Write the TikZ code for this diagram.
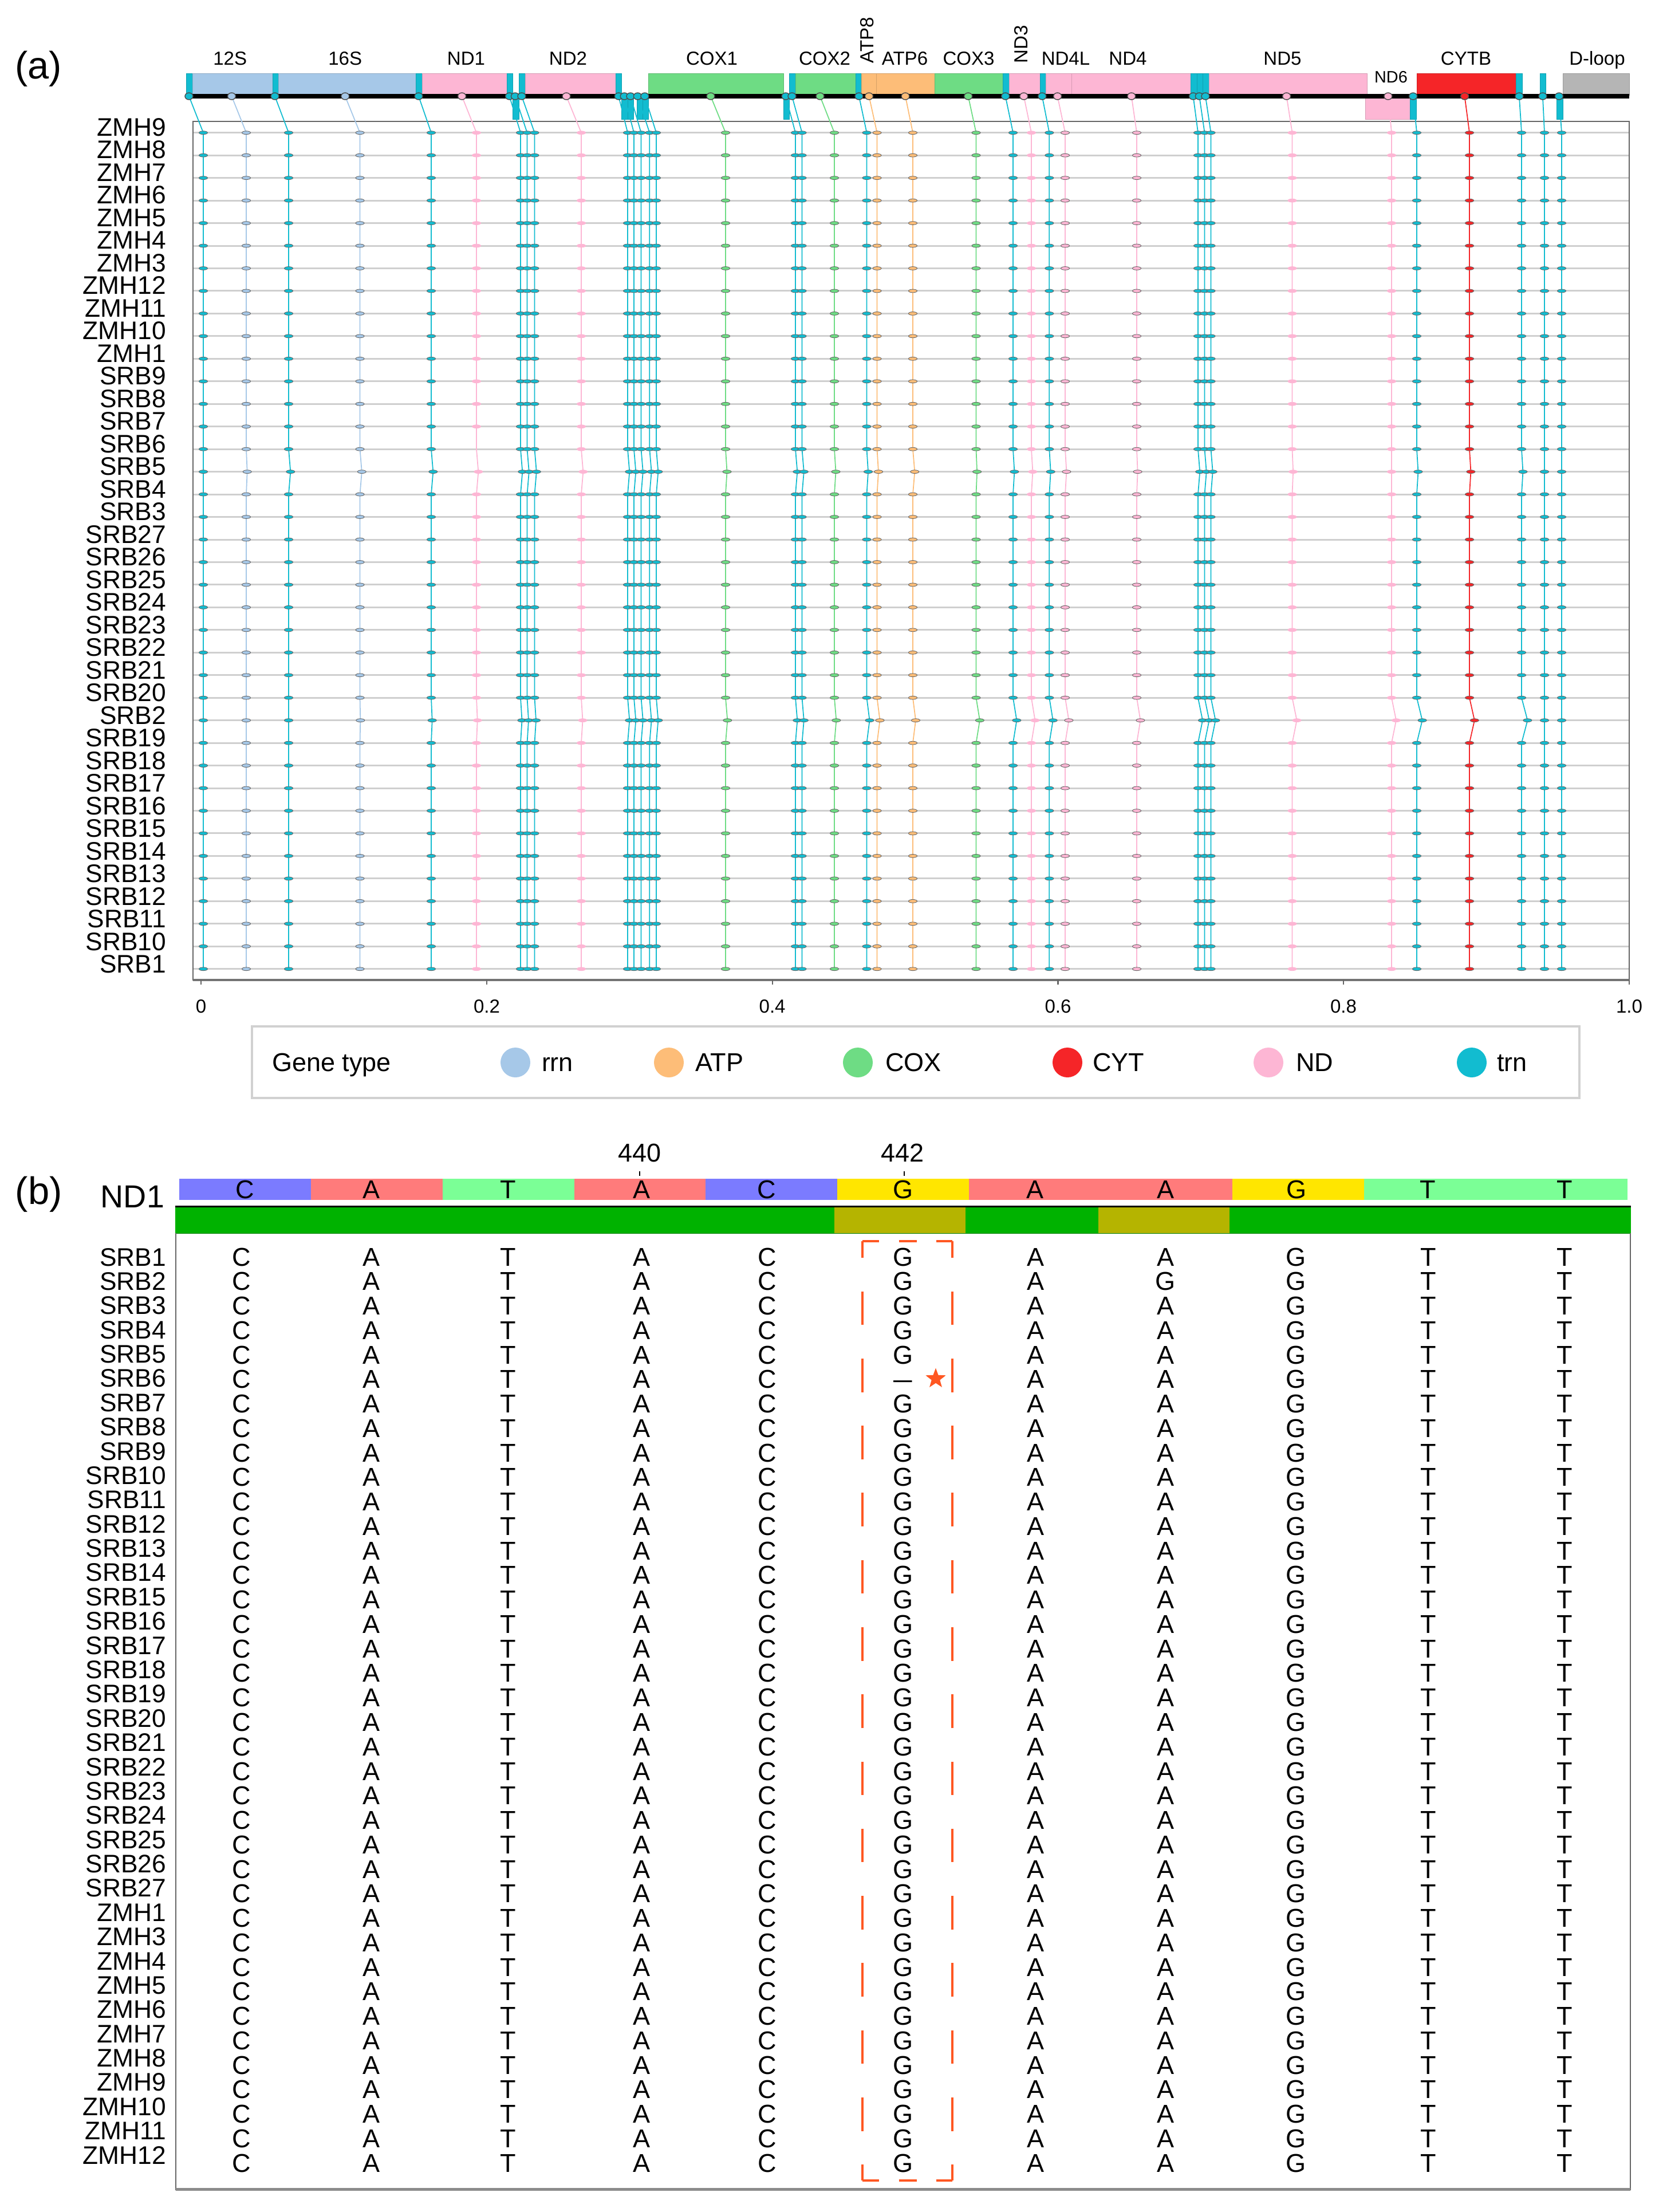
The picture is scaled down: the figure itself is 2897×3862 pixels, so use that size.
\documentclass[tikz,border=0pt]{standalone}
\usepackage{fontspec}
\setmainfont{Liberation Sans}
\usetikzlibrary{shapes.geometric}
\definecolor{crrn}{RGB}{166,200,232}
\definecolor{catp}{RGB}{253,189,120}
\definecolor{ccox}{RGB}{110,220,132}
\definecolor{ccyt}{RGB}{245,37,40}
\definecolor{cnd}{RGB}{253,182,212}
\definecolor{ctrn}{RGB}{18,188,208}
\definecolor{cdloop}{RGB}{181,181,181}
\definecolor{cellC}{RGB}{123,123,255}
\definecolor{cellA}{RGB}{255,123,123}
\definecolor{cellT}{RGB}{123,255,150}
\definecolor{cellG}{RGB}{255,230,0}
\definecolor{bargreen}{RGB}{0,178,0}
\definecolor{barolive}{RGB}{181,180,0}
\definecolor{hilite}{RGB}{255,87,34}
\begin{document}
\begin{tikzpicture}[x=0.01cm,y=-0.01cm,
  every node/.style={inner sep=0pt,outer sep=0pt},
  panellab/.style={font=\fontsize{19}{22}\selectfont,anchor=base west},
  rowlab/.style={font=\fontsize{12.6}{14}\selectfont,anchor=base east},
  genelab/.style={font=\fontsize{9.4}{11}\selectfont,anchor=base},
  legtext/.style={font=\fontsize{12.8}{14}\selectfont,anchor=base west},
  seqlet/.style={font=\fontsize{12.8}{14}\selectfont,anchor=base},
  conn/.style={line width=0.5pt},
  rowline/.style={draw=black!19,line width=0.03cm},
  hl/.style={draw=hilite,line width=0.04cm}]
\useasboundingbox (0,0) rectangle (2897,3862);

% ================= panel (a) =================
\node[panellab] (pa) at (26,137.5) {(a)};

% frame and axis
\draw[black!60,line width=0.6pt] (337,212.3) rectangle (2845,1711);
\draw[black!55,line width=1.3pt] (337,1711) -- (2845,1711);
\foreach \xx/\tl [count=\k] in {351/0,850/0.2,1348.6/0.4,1847.5/0.6,2346/0.8,2845/1.0}{
  \draw[black!60,line width=0.6pt] (\xx,1711) -- (\xx,1719);
  \node[genelab] (tick\k) at (\xx,1768) {\tl};
}

% row lines and row labels
\foreach \n [count=\i from 0] in {ZMH9,ZMH8,ZMH7,ZMH6,ZMH5,ZMH4,ZMH3,ZMH12,ZMH11,ZMH10,ZMH1,SRB9,SRB8,SRB7,SRB6,SRB5,SRB4,SRB3,SRB27,SRB26,SRB25,SRB24,SRB23,SRB22,SRB21,SRB20,SRB2,SRB19,SRB18,SRB17,SRB16,SRB15,SRB14,SRB13,SRB12,SRB11,SRB10,SRB1}{
  \pgfmathsetmacro\ry{231.7+39.46*\i}
  \pgfmathsetmacro\ly{237+39.5*\i}
  \draw[rowline] (338,\ry) -- (2844,\ry);
  \node[rowlab] (ra\i) at (290,\ly) {\n};
}

% gene bar boxes (above strand)
\foreach \tc/\xa/\xb in {ctrn/325/336,crrn/336/476,ctrn/476/486,crrn/486/726,ctrn/726/737,cnd/737/885,ctrn/885/895,ctrn/906/917,cnd/917/1075,ctrn/1075/1085,ccox/1132/1368,ctrn/1378/1389,ccox/1389/1494,ctrn/1494/1504,catp/1504/1530,catp/1530/1632,ccox/1632/1751,ctrn/1751/1762,cnd/1762/1816,ctrn/1816/1826,cnd/1826/1871.5,cnd/1871.5/2079,ctrn/2079/2090,ctrn/2090/2100,ctrn/2100/2111,cnd/2111/2387,ccyt/2474/2647.5,ctrn/2647.5/2658,ctrn/2689/2699,cdloop/2729/2845}{
  \filldraw[fill=\tc,draw=\tc!85!black,line width=0.2pt] (\xa,128) rectangle (\xb,166);
}
% gene bar boxes (below strand)
\foreach \tc/\xa/\xb in {ctrn/895/906,ctrn/1085/1096,ctrn/1096/1106,ctrn/1112/1122,ctrn/1122/1132,ctrn/1368/1378,cnd/2384/2462,ctrn/2462/2473,ctrn/2718/2729}{
  \filldraw[fill=\tc,draw=\tc!85!black,line width=0.2pt] (\xa,170) rectangle (\xb,208);
}

% column data: colour / bar x / row x / SRB5 shift / SRB2 shift / marker outline
\def\coldata{ctrn/330/355/0/0/black!60,
 crrn/404.5/430/1.7/0/black!60,
 ctrn/480/504/3.3/0/black!60,
 crrn/602.7/628.5/3.3/0.8/black!60,
 ctrn/731/753/3.3/1.7/black!60,
 cnd/806.6/832/3.3/1.7/cnd,
 ctrn/889.6/909/3.3/2.5/black!60,
 ctrn/899.5/920.5/3.3/2.5/black!60,
 ctrn/911/933.5/3.3/2.5/black!60,
 cnd/989/1015/3.3/2.5/cnd,
 ctrn/1080.3/1096/3.3/3.3/black!60,
 ctrn/1090.2/1107/3.3/3.3/black!60,
 ctrn/1101/1119.5/3.3/3.3/black!60,
 ctrn/1113.4/1134.3/3.3/3.3/black!60,
 ctrn/1125.9/1146/3.3/3.3/black!60,
 ccox/1241/1267/2.5/3.3/black!60,
 ctrn/1372/1389/3.3/3.3/black!60,
 ctrn/1383/1400.5/3.3/3.3/black!60,
 ccox/1432/1457/2.5/3.3/black!60,
 ctrn/1500/1513.5/2.5/5/black!60,
 catp/1517.5/1531.5/2.5/5/black!60,
 catp/1581/1594/3.3/5/black!60,
 ccox/1690.7/1704.5/1.6/6.4/black!60,
 ctrn/1755.7/1769/2.4/6.4/black!60,
 cnd/1787.8/1801/2.4/6.4/cnd,
 ctrn/1819.8/1832.3/2.4/6.4/black!60,
 cnd/1846.6/1860/2.4/6.4/black!60,
 cnd/1975.8/1985/1.6/6.4/black!60,
 ctrn/2083.6/2092/3.2/8/black!60,
 ctrn/2094.3/2103.5/3.2/8/black!60,
 ctrn/2105/2114.5/3.2/8/black!60,
 cnd/2246.6/2256.5/1.6/8/cnd,
 cnd/2423.9/2430/0/8/cnd,
 ctrn/2467.6/2474/2.4/9.6/black!60,
 ccyt/2557.6/2566/2.4/8.8/black!60,
 ctrn/2652.9/2657/2.4/10.4/black!60,
 ctrn/2693.9/2697/0/0/black!60,
 ctrn/2722.4/2727/0/0/black!60}

% connectors
\foreach \tc/\bx/\rx/\shA/\shB/\olc in \coldata{
  \draw[conn,draw=\tc] (\bx,168) -- (\rx,231.7) -- (\rx,784.14) -- ({\rx+\shA},823.6) -- (\rx,863.06) -- (\rx,1218.2) -- ({\rx+\shB},1257.66) -- (\rx,1297.12) -- (\rx,1691.72);
}

% strand line
\draw[black,line width=0.08cm] (325,168) -- (2845,168);

% markers
\foreach \tc/\bx/\rx/\shA/\shB/\olc [count=\cn] in \coldata{
  \foreach \i in {0,...,37}{
    \pgfmathsetmacro\mx{\rx+(\i==15)*\shA+(\i==26)*\shB}
    \pgfmathsetmacro\my{231.7+39.46*\i}
    \pgfmathtruncatemacro\skp{(\cn==6)&&(\i==14)}
    \ifnum\skp=0
      \filldraw[fill=\tc,draw=\olc,line width=0.25pt] (\mx,\my) ellipse [x radius=7.5,y radius=2.9];
    \fi
  }
  \filldraw[fill=\tc,draw=black!70,line width=0.4pt] (\bx,168) ellipse [x radius=7,y radius=6];
}

% gene labels
\node[genelab] (g12S) at (401.7,113) {12S};
\node[genelab] (g16S) at (602.7,113) {16S};
\node[genelab] (gND1) at (814,113) {ND1};
\node[genelab] (gND2) at (992,113) {ND2};
\node[genelab] (gCOX1) at (1243,113) {COX1};
\node[genelab] (gCOX2) at (1440,113) {COX2};
\node[genelab,rotate=90,anchor=center] (gATP8) at (1514,70) {ATP8};
\node[genelab] (gATP6) at (1580,113) {ATP6};
\node[genelab] (gCOX3) at (1691.5,113) {COX3};
\node[genelab,rotate=90,anchor=center] (gND3) at (1783,77.5) {ND3};
\node[genelab] (gND4L) at (1861,113) {ND4L};
\node[genelab] (gND4) at (1969.5,113) {ND4};
\node[genelab] (gND5) at (2239.5,113) {ND5};
\node[genelab,font=\fontsize{8.2}{9}\selectfont] (gND6) at (2429,144) {ND6};
\node[genelab] (gCYTB) at (2560,113) {CYTB};
\node[genelab] (gDloop) at (2789,113) {D-loop};

% legend
\draw[draw=black!18,line width=0.035cm] (440,1792) rectangle (2758,1917);
\node[legtext] (legtitle) at (475,1870) {Gene type};
\foreach \tc/\cx/\tx/\nm in {crrn/900/946/rrn,catp/1168/1214/ATP,ccox/1498/1546/COX,ccyt/1864/1908/CYT,cnd/2215/2263/ND,ctrn/2570/2614/trn}{
  \fill[\tc] (\cx,1855) circle [radius=26];
  \node[legtext] (leg\nm) at (\tx,1870) {\nm};
}

% ================= panel (b) =================
\node[panellab] (pb) at (27,2102) {(b)};
\node[font=\fontsize{15.8}{18}\selectfont,anchor=base east] (nd1lab) at (287,2108) {ND1};

% reference cells
\foreach \cl/\L/\xx [count=\k] in {cellC/C/427.6,cellA/A/648.6,cellT/T/886.8,cellA/A/1121,cellC/C/1339,cellG/G/1576.6,cellA/A/1807.7,cellA/A/2035,cellG/G/2264,cellT/T/2493,cellT/T/2732}{
  \pgfmathsetmacro\xa{312.8+229.9*(\k-1)}
  \pgfmathsetmacro\xb{312.8+229.9*\k}
  \fill[\cl] (\xa,2058) rectangle (\xb,2095);
  \node[seqlet] (ref\k) at (\xx,2092) {\L};
}
\node[seqlet] (p440) at (1117.4,2028) {440};
\node[seqlet] (p442) at (1576,2028) {442};
\coordinate (t440a) at (1117.4,2045);
\coordinate (t440b) at (1117.4,2053);
\coordinate (t442a) at (1578.5,2045);
\coordinate (t442b) at (1578.5,2053);
\draw[black,line width=0.02cm] (t440a) -- (t440b);
\draw[black,line width=0.02cm] (t442a) -- (t442b);

% consensus bar
\draw[black,line width=0.03cm] (306,2106) -- (2848,2106);
\fill[bargreen] (306,2108) rectangle (2848,2153);
\fill[barolive] (1457,2108) rectangle (1686.4,2153);
\fill[barolive] (1917.5,2108) rectangle (2146.6,2153);
\draw[bargreen!70!black,line width=0.3pt] (306,2153) -- (2848,2153);

% frame (b)
\draw[black!60,line width=0.6pt] (306.7,2153) -- (306.7,3822.7) -- (2847,3822.7) -- (2847,2153);
\draw[black!45,line width=1.3pt] (306.7,3822.7) -- (2847,3822.7);

% alignment rows
\foreach \n [count=\i from 0] in {SRB1,SRB2,SRB3,SRB4,SRB5,SRB6,SRB7,SRB8,SRB9,SRB10,SRB11,SRB12,SRB13,SRB14,SRB15,SRB16,SRB17,SRB18,SRB19,SRB20,SRB21,SRB22,SRB23,SRB24,SRB25,SRB26,SRB27,ZMH1,ZMH3,ZMH4,ZMH5,ZMH6,ZMH7,ZMH8,ZMH9,ZMH10,ZMH11,ZMH12}{
  \pgfmathsetmacro\yb{2210+42.76*\i}
  \pgfmathsetmacro\yl{2210+42.38*\i}
  \node[rowlab] (rb\i) at (290,\yl) {\n};
  \foreach \L/\xx [count=\k] in {C/422,A/649,T/887,A/1121,C/1340,G/1577,A/1808,A/2035,G/2263,T/2494,T/2732}{
    \pgfmathtruncatemacro\spc{((\i==1)&&(\k==8))||((\i==5)&&(\k==6))}
    \ifnum\spc=0
      \node[seqlet] (b\i-\k) at (\xx,\yb) {\L};
    \fi
  }
}
% variant cells
\node[seqlet] (b1-8) at (2035,2252.76) {G};
\node[seqlet] (b5-6) at (1577,2423.8) {\scalebox{1.3}[1]{–}};
\node[star,star points=5,star point ratio=2.4,fill=hilite,minimum size=0.37cm] (star) at (1634,2407) {};

% highlight box around position 442
\coordinate (hl1) at (1506,2166.7);
\coordinate (hl2) at (1662.6,2166.7);
\coordinate (hl3) at (1662.6,3806.7);
\coordinate (hl4) at (1506,3806.7);
\draw[hl,dash pattern=on 0.29cm off 0.345cm on 0.31cm off 0.345cm on 0.5cm off 0.1cm] (hl1) -- (hl2);
\draw[hl,dash pattern=on 0.29cm off 0.345cm on 0.31cm off 0.345cm on 0.5cm off 0.1cm] (hl4) -- (hl3);
\draw[hl,dash pattern=on 0.586cm off 0.586cm,dash phase=0.293cm] (hl1) -- (hl4);
\draw[hl,dash pattern=on 0.586cm off 0.586cm,dash phase=0.293cm] (hl2) -- (hl3);
\end{tikzpicture}
\end{document}
